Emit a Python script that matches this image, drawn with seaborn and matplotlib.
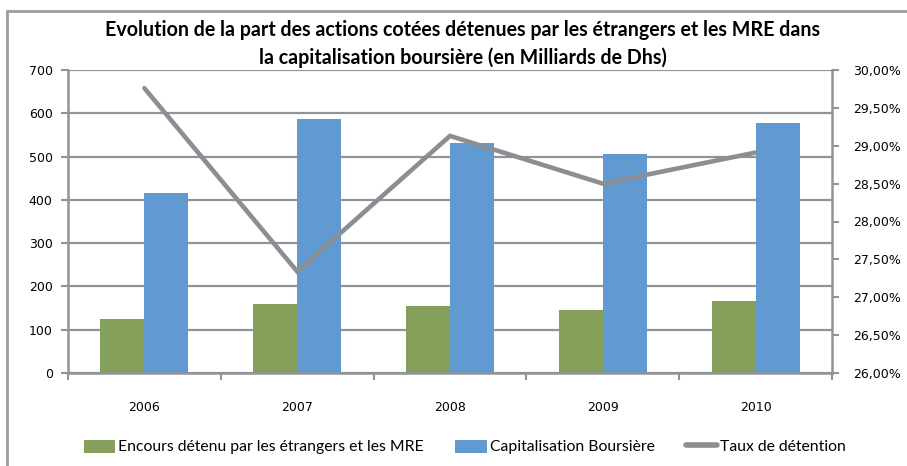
import numpy as np
import pandas as pd
import seaborn as sns
import matplotlib.pyplot as plt
from matplotlib.lines import Line2D
from matplotlib.patches import Patch
from matplotlib.ticker import FuncFormatter, FixedLocator

# Chart data
annees = ["2006", "2007", "2008", "2009", "2010"]
encours = [125, 160, 155, 146, 166]          # Encours détenu par les étrangers et les MRE
capitalisation = [416, 586, 532, 507, 577]   # Capitalisation Boursière
taux = [29.76, 27.34, 29.13, 28.50, 28.91]   # Taux de détention (%)

serie_names = ["Encours détenu par les étrangers et les MRE", "Capitalisation Boursière"]
line_name = "Taux de détention"

green = "#84A05A"
blue = "#6199D1"
gray = "#8B8E93"
grid_gray = "#909398"

sns.set_style("white")
narrow = ["Lato", "DejaVu Sans"]
plt.rcParams["font.family"] = ["DejaVu Sans"]
plt.rcParams["text.color"] = "black"
plt.rcParams["xtick.color"] = "black"
plt.rcParams["ytick.color"] = "black"

df = pd.DataFrame({
    "annee": annees * 2,
    "valeur": encours + capitalisation,
    "serie": [serie_names[0]] * len(annees) + [serie_names[1]] * len(annees),
})

fig = plt.figure(figsize=(9.07, 4.66), dpi=100)
ax = fig.add_axes([68 / 907, 1 - 373 / 466, (832 - 68) / 907, (373 - 70) / 466])

sns.barplot(data=df, x="annee", y="valeur", hue="serie", palette=[green, blue],
            width=0.575, gap=0, saturation=1, ax=ax, edgecolor="none")
ax.get_legend().remove()

ax.set_ylim(0, 700)
ax.set_yticks(range(0, 701, 100))
ax.set_xlim(-0.5, 4.5)
ax.set_xlabel("")
ax.set_ylabel("")
ax.set_axisbelow(True)
ax.yaxis.grid(True, color=grid_gray, lw=1.6)
for side in ["left", "bottom"]:
    ax.spines[side].set_color(grid_gray)
    ax.spines[side].set_linewidth(1.8)
for side in ["top", "right"]:
    ax.spines[side].set_visible(False)

ax.tick_params(axis="y", which="major", length=5, width=1.5, color=grid_gray,
               labelsize=9, pad=6, direction="out", left=True)
ax.tick_params(axis="x", which="major", length=0, labelsize=9, pad=20)
ax.xaxis.set_minor_locator(FixedLocator(np.arange(-0.5, 5, 1.0)))
ax.tick_params(axis="x", which="minor", length=5, width=1.5, color=grid_gray,
               direction="out", bottom=True)

# Secondary axis for the detention rate
ax2 = ax.twinx()
sns.lineplot(x=np.arange(len(annees)), y=taux, ax=ax2, color=gray, lw=3.3,
             solid_capstyle="round", solid_joinstyle="miter")
ax2.set_xlim(-0.5, 4.5)
ax2.set_ylim(26, 30)
ax2.set_yticks(np.arange(26, 30.01, 0.5))
ax2.yaxis.set_major_formatter(FuncFormatter(lambda v, p: f"{v:.2f}%".replace(".", ",")))
ax2.tick_params(axis="y", length=5, width=1.5, color=grid_gray, labelsize=9, pad=10,
                direction="out", right=True)
for side in ["top", "left", "bottom"]:
    ax2.spines[side].set_visible(False)
ax2.spines["right"].set_color(grid_gray)
ax2.spines["right"].set_linewidth(1.8)
ax2.set_ylabel("")

# Title
fig.text(463 / 907, 1 - 44 / 466,
         "Evolution de la part des actions cotées détenues par les étrangers et les MRE dans\n"
         "la capitalisation boursière (en Milliards de Dhs)",
         ha="center", va="center", fontsize=14.1, fontweight="bold", family=narrow,
         linespacing=1.45)

# Legend
handles = [Patch(facecolor=green, edgecolor="none"),
           Patch(facecolor=blue, edgecolor="none"),
           Line2D([0], [0], color=gray, lw=4)]
fig.legend(handles, serie_names + [line_name], loc="center",
           bbox_to_anchor=(465 / 907, 1 - 447 / 466), ncol=3, frameon=False,
           prop={"family": narrow, "size": 11.3}, handlelength=2.0, handleheight=0.9,
           handletextpad=0.2, columnspacing=2.0)

# Outer chart frame (top and left edges visible)
fig.add_artist(Line2D([6.5 / 907, 6.5 / 907], [0, 1 - 10.5 / 466], transform=fig.transFigure,
                      color="#9A9DA1", lw=2))
fig.add_artist(Line2D([6.5 / 907, 1], [1 - 10.5 / 466, 1 - 10.5 / 466], transform=fig.transFigure,
                      color="#9A9DA1", lw=2))

fig.savefig("out.png", dpi=100)
